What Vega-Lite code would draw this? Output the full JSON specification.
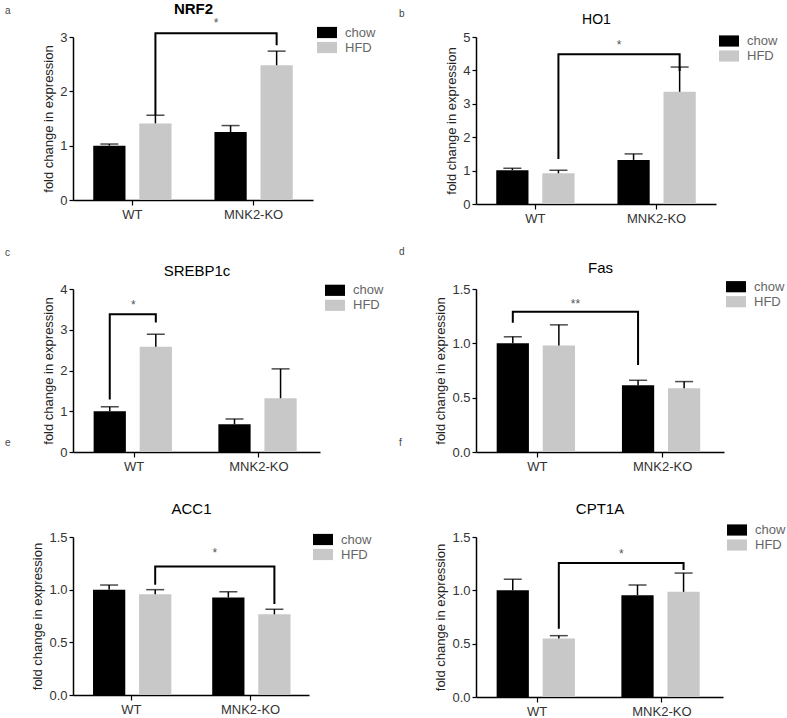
{
  "$schema": "https://vega.github.io/schema/vega-lite/v6.json",
  "background": "white",
  "padding": {"left": 5, "top": 1, "right": 0, "bottom": 0},
  "config": {
    "font": "Liberation Sans",
    "view": {"stroke": null},
    "axis": {"grid": false, "domainColor": "#000", "domainWidth": 1.5, "tickColor": "#000", "tickWidth": 1.2, "tickSize": 4, "labelFontSize": 13, "labelColor": "#333", "labelOverlap": false, "titleFontSize": 13, "titleFontWeight": "normal", "titleColor": "#222"},
    "axisX": {"title": null, "labelAngle": 0, "tickSize": 5, "labelPadding": 3},
    "legend": {"symbolType": "M-1.25,-0.7H1.25V0.7H-1.25Z", "symbolSize": 256, "symbolStrokeWidth": 0, "labelFontSize": 13, "labelColor": "#666", "rowPadding": 0, "labelOffset": 10, "padding": 0},
    "title": {"fontSize": 10, "fontWeight": "normal", "color": "#444"}
  },
  "datasets": {
    "bars": [
      {"panel": "a", "genotype": "WT", "diet": "chow", "mean": 1.0, "upper": 1.03},
      {"panel": "a", "genotype": "WT", "diet": "HFD", "mean": 1.41, "upper": 1.56},
      {"panel": "a", "genotype": "MNK2-KO", "diet": "chow", "mean": 1.25, "upper": 1.37},
      {"panel": "a", "genotype": "MNK2-KO", "diet": "HFD", "mean": 2.48, "upper": 2.74},
      {"panel": "b", "genotype": "WT", "diet": "chow", "mean": 1.01, "upper": 1.07},
      {"panel": "b", "genotype": "WT", "diet": "HFD", "mean": 0.92, "upper": 1.01},
      {"panel": "b", "genotype": "MNK2-KO", "diet": "chow", "mean": 1.32, "upper": 1.5},
      {"panel": "b", "genotype": "MNK2-KO", "diet": "HFD", "mean": 3.36, "upper": 4.1},
      {"panel": "c", "genotype": "WT", "diet": "chow", "mean": 1.0, "upper": 1.11},
      {"panel": "c", "genotype": "WT", "diet": "HFD", "mean": 2.58, "upper": 2.89},
      {"panel": "c", "genotype": "MNK2-KO", "diet": "chow", "mean": 0.68, "upper": 0.81},
      {"panel": "c", "genotype": "MNK2-KO", "diet": "HFD", "mean": 1.32, "upper": 2.04},
      {"panel": "d", "genotype": "WT", "diet": "chow", "mean": 1.0, "upper": 1.06},
      {"panel": "d", "genotype": "WT", "diet": "HFD", "mean": 0.98, "upper": 1.17},
      {"panel": "d", "genotype": "MNK2-KO", "diet": "chow", "mean": 0.615, "upper": 0.66},
      {"panel": "d", "genotype": "MNK2-KO", "diet": "HFD", "mean": 0.587, "upper": 0.648},
      {"panel": "e", "genotype": "WT", "diet": "chow", "mean": 1.0, "upper": 1.044},
      {"panel": "e", "genotype": "WT", "diet": "HFD", "mean": 0.957, "upper": 1.0},
      {"panel": "e", "genotype": "MNK2-KO", "diet": "chow", "mean": 0.926, "upper": 0.98},
      {"panel": "e", "genotype": "MNK2-KO", "diet": "HFD", "mean": 0.766, "upper": 0.814},
      {"panel": "f", "genotype": "WT", "diet": "chow", "mean": 1.0, "upper": 1.104},
      {"panel": "f", "genotype": "WT", "diet": "HFD", "mean": 0.548, "upper": 0.575},
      {"panel": "f", "genotype": "MNK2-KO", "diet": "chow", "mean": 0.955, "upper": 1.05},
      {"panel": "f", "genotype": "MNK2-KO", "diet": "HFD", "mean": 0.986, "upper": 1.162}
    ],
    "brackets": [
      {"panel": "a", "genotype": "WT", "diet": "HFD", "y": 1.56, "seq": 1},
      {"panel": "a", "genotype": "WT", "diet": "HFD", "y": 3.07, "seq": 2},
      {"panel": "a", "genotype": "MNK2-KO", "diet": "HFD", "y": 3.07, "seq": 3},
      {"panel": "a", "genotype": "MNK2-KO", "diet": "HFD", "y": 2.85, "seq": 4},
      {"panel": "b", "genotype": "WT", "diet": "HFD", "y": 1.35, "seq": 1},
      {"panel": "b", "genotype": "WT", "diet": "HFD", "y": 4.48, "seq": 2},
      {"panel": "b", "genotype": "MNK2-KO", "diet": "HFD", "y": 4.48, "seq": 3},
      {"panel": "b", "genotype": "MNK2-KO", "diet": "HFD", "y": 3.98, "seq": 4},
      {"panel": "c", "genotype": "WT", "diet": "chow", "y": 1.29, "seq": 1},
      {"panel": "c", "genotype": "WT", "diet": "chow", "y": 3.38, "seq": 2},
      {"panel": "c", "genotype": "WT", "diet": "HFD", "y": 3.38, "seq": 3},
      {"panel": "c", "genotype": "WT", "diet": "HFD", "y": 3.18, "seq": 4},
      {"panel": "d", "genotype": "WT", "diet": "chow", "y": 1.19, "seq": 1},
      {"panel": "d", "genotype": "WT", "diet": "chow", "y": 1.29, "seq": 2},
      {"panel": "d", "genotype": "MNK2-KO", "diet": "chow", "y": 1.29, "seq": 3},
      {"panel": "d", "genotype": "MNK2-KO", "diet": "chow", "y": 0.8, "seq": 4},
      {"panel": "e", "genotype": "WT", "diet": "HFD", "y": 1.047, "seq": 1},
      {"panel": "e", "genotype": "WT", "diet": "HFD", "y": 1.22, "seq": 2},
      {"panel": "e", "genotype": "MNK2-KO", "diet": "HFD", "y": 1.22, "seq": 3},
      {"panel": "e", "genotype": "MNK2-KO", "diet": "HFD", "y": 0.865, "seq": 4},
      {"panel": "f", "genotype": "WT", "diet": "HFD", "y": 0.64, "seq": 1},
      {"panel": "f", "genotype": "WT", "diet": "HFD", "y": 1.256, "seq": 2},
      {"panel": "f", "genotype": "MNK2-KO", "diet": "HFD", "y": 1.256, "seq": 3},
      {"panel": "f", "genotype": "MNK2-KO", "diet": "HFD", "y": 1.19, "seq": 4}
    ],
    "stars": [
      {"panel": "a", "genotype": "WT", "diet": "HFD", "y": 3.25, "label": "*"},
      {"panel": "b", "genotype": "WT", "diet": "HFD", "y": 4.77, "label": "*"},
      {"panel": "c", "genotype": "WT", "diet": "chow", "y": 3.6, "label": "*"},
      {"panel": "d", "genotype": "WT", "diet": "chow", "y": 1.36, "label": "**"},
      {"panel": "e", "genotype": "WT", "diet": "HFD", "y": 1.35, "label": "*"},
      {"panel": "f", "genotype": "WT", "diet": "HFD", "y": 1.345, "label": "*"}
    ]
  },
  "columns": 2,
  "bounds": "flush",
  "align": "each",
  "spacing": {"row": 85, "column": 156},
  "resolve": {"scale": {"color": "independent"}, "legend": {"color": "independent"}},
  "concat": [
    {
      "width": 240, "height": 163,
      "title": {"text": "a", "anchor": "start", "frame": "group", "dx": -68, "offset": -22.5, "baseline": "alphabetic"},
      "resolve": {"axis": {"x": "independent"}},
      "layer": [
        {"data": {"name": "bars"}, "transform": [{"filter": "datum.panel === 'a'"}], "mark": {"type": "bar"},
         "encoding": {
           "x": {"field": "genotype", "type": "nominal", "sort": ["WT", "MNK2-KO"], "scale": {"paddingInner": 0.24, "paddingOuter": 0.11}, "axis": {"orient": "bottom"}},
           "xOffset": {"field": "diet", "type": "nominal", "sort": ["chow", "HFD"], "scale": {"paddingInner": 0.3, "paddingOuter": 0.15}},
           "y": {"field": "mean", "type": "quantitative", "scale": {"domain": [0, 3], "nice": false}, "axis": {"values": [0, 1, 2, 3], "tickCount": 10, "format": "d", "title": "fold change in expression"}},
           "color": {"field": "diet", "type": "nominal", "scale": {"domain": ["chow", "HFD"], "range": ["#000000", "#c8c8c8"]}, "legend": {"orient": "none", "legendX": 246, "legendY": -12.5, "title": null}}
         }},
        {"data": {"name": "bars"}, "transform": [{"filter": "datum.panel === 'a'"}], "mark": {"type": "rule", "color": "#000", "strokeWidth": 1.5},
         "encoding": {
           "x": {"field": "genotype", "type": "nominal", "sort": ["WT", "MNK2-KO"], "axis": null},
           "xOffset": {"field": "diet", "type": "nominal", "sort": ["chow", "HFD"]},
           "y": {"field": "mean", "type": "quantitative"}, "y2": {"field": "upper"}
         }},
        {"data": {"name": "bars"}, "transform": [{"filter": "datum.panel === 'a'"}], "mark": {"type": "tick", "color": "#000", "thickness": 1.5, "size": 18},
         "encoding": {
           "x": {"field": "genotype", "type": "nominal", "sort": ["WT", "MNK2-KO"], "axis": null},
           "xOffset": {"field": "diet", "type": "nominal", "sort": ["chow", "HFD"]},
           "y": {"field": "upper", "type": "quantitative"}
         }},
        {"data": {"name": "brackets"}, "transform": [{"filter": "datum.panel === 'a'"}], "mark": {"type": "line", "color": "#000", "strokeWidth": 2},
         "encoding": {
           "x": {"field": "genotype", "type": "nominal", "sort": ["WT", "MNK2-KO"], "axis": null},
           "xOffset": {"field": "diet", "type": "nominal", "sort": ["chow", "HFD"]},
           "y": {"field": "y", "type": "quantitative"}, "order": {"field": "seq", "type": "quantitative"}
         }},
        {"data": {"name": "stars"}, "transform": [{"filter": "datum.panel === 'a'"}], "mark": {"type": "text", "dx": 60.6, "fontSize": 12, "color": "#555", "baseline": "middle"},
         "encoding": {
           "x": {"field": "genotype", "type": "nominal", "sort": ["WT", "MNK2-KO"], "axis": {"orient": "top", "title": "NRF2", "labels": false, "ticks": false, "domain": false, "titleFontSize": 15, "titleFontWeight": "bold", "titleColor": "#000", "titleAnchor": "middle", "titleBaseline": "alphabetic", "titleY": -24}},
           "xOffset": {"field": "diet", "type": "nominal", "sort": ["chow", "HFD"]},
           "y": {"field": "y", "type": "quantitative"}, "text": {"field": "label"}
         }}
      ]
    },
    {
      "width": 240, "height": 167,
      "title": {"text": "b", "anchor": "start", "frame": "group", "dx": -77, "offset": -14.5, "baseline": "alphabetic"},
      "resolve": {"axis": {"x": "independent"}},
      "layer": [
        {"data": {"name": "bars"}, "transform": [{"filter": "datum.panel === 'b'"}], "mark": {"type": "bar"},
         "encoding": {
           "x": {"field": "genotype", "type": "nominal", "sort": ["WT", "MNK2-KO"], "scale": {"paddingInner": 0.24, "paddingOuter": 0.11}, "axis": {"orient": "bottom"}},
           "xOffset": {"field": "diet", "type": "nominal", "sort": ["chow", "HFD"], "scale": {"paddingInner": 0.3, "paddingOuter": 0.15}},
           "y": {"field": "mean", "type": "quantitative", "scale": {"domain": [0, 5], "nice": false}, "axis": {"values": [0, 1, 2, 3, 4, 5], "tickCount": 10, "format": "d", "title": "fold change in expression"}},
           "color": {"field": "diet", "type": "nominal", "scale": {"domain": ["chow", "HFD"], "range": ["#000000", "#c8c8c8"]}, "legend": {"orient": "none", "legendX": 245, "legendY": -4, "title": null}}
         }},
        {"data": {"name": "bars"}, "transform": [{"filter": "datum.panel === 'b'"}], "mark": {"type": "rule", "color": "#000", "strokeWidth": 1.5},
         "encoding": {
           "x": {"field": "genotype", "type": "nominal", "sort": ["WT", "MNK2-KO"], "axis": null},
           "xOffset": {"field": "diet", "type": "nominal", "sort": ["chow", "HFD"]},
           "y": {"field": "mean", "type": "quantitative"}, "y2": {"field": "upper"}
         }},
        {"data": {"name": "bars"}, "transform": [{"filter": "datum.panel === 'b'"}], "mark": {"type": "tick", "color": "#000", "thickness": 1.5, "size": 18},
         "encoding": {
           "x": {"field": "genotype", "type": "nominal", "sort": ["WT", "MNK2-KO"], "axis": null},
           "xOffset": {"field": "diet", "type": "nominal", "sort": ["chow", "HFD"]},
           "y": {"field": "upper", "type": "quantitative"}
         }},
        {"data": {"name": "brackets"}, "transform": [{"filter": "datum.panel === 'b'"}], "mark": {"type": "line", "color": "#000", "strokeWidth": 2},
         "encoding": {
           "x": {"field": "genotype", "type": "nominal", "sort": ["WT", "MNK2-KO"], "axis": null},
           "xOffset": {"field": "diet", "type": "nominal", "sort": ["chow", "HFD"]},
           "y": {"field": "y", "type": "quantitative"}, "order": {"field": "seq", "type": "quantitative"}
         }},
        {"data": {"name": "stars"}, "transform": [{"filter": "datum.panel === 'b'"}], "mark": {"type": "text", "dx": 60.6, "fontSize": 12, "color": "#555", "baseline": "middle"},
         "encoding": {
           "x": {"field": "genotype", "type": "nominal", "sort": ["WT", "MNK2-KO"], "axis": {"orient": "top", "title": "HO1", "labels": false, "ticks": false, "domain": false, "titleFontSize": 14, "titleFontWeight": "normal", "titleColor": "#000", "titleAnchor": "middle", "titleBaseline": "alphabetic", "titleY": -14}},
           "xOffset": {"field": "diet", "type": "nominal", "sort": ["chow", "HFD"]},
           "y": {"field": "y", "type": "quantitative"}, "text": {"field": "label"}
         }}
      ]
    },
    {
      "width": 247, "height": 163,
      "title": {"text": "c", "anchor": "start", "frame": "group", "dx": -68, "offset": -2.5, "baseline": "alphabetic"},
      "resolve": {"axis": {"x": "independent"}},
      "layer": [
        {"data": {"name": "bars"}, "transform": [{"filter": "datum.panel === 'c'"}], "mark": {"type": "bar"},
         "encoding": {
           "x": {"field": "genotype", "type": "nominal", "sort": ["WT", "MNK2-KO"], "scale": {"paddingInner": 0.24, "paddingOuter": 0.11}, "axis": {"orient": "bottom"}},
           "xOffset": {"field": "diet", "type": "nominal", "sort": ["chow", "HFD"], "scale": {"paddingInner": 0.3, "paddingOuter": 0.15}},
           "y": {"field": "mean", "type": "quantitative", "scale": {"domain": [0, 4], "nice": false}, "axis": {"values": [0, 1, 2, 3, 4], "tickCount": 10, "format": "d", "title": "fold change in expression"}},
           "color": {"field": "diet", "type": "nominal", "scale": {"domain": ["chow", "HFD"], "range": ["#000000", "#c8c8c8"]}, "legend": {"orient": "none", "legendX": 254, "legendY": -6.7, "title": null}}
         }},
        {"data": {"name": "bars"}, "transform": [{"filter": "datum.panel === 'c'"}], "mark": {"type": "rule", "color": "#000", "strokeWidth": 1.5},
         "encoding": {
           "x": {"field": "genotype", "type": "nominal", "sort": ["WT", "MNK2-KO"], "axis": null},
           "xOffset": {"field": "diet", "type": "nominal", "sort": ["chow", "HFD"]},
           "y": {"field": "mean", "type": "quantitative"}, "y2": {"field": "upper"}
         }},
        {"data": {"name": "bars"}, "transform": [{"filter": "datum.panel === 'c'"}], "mark": {"type": "tick", "color": "#000", "thickness": 1.5, "size": 18},
         "encoding": {
           "x": {"field": "genotype", "type": "nominal", "sort": ["WT", "MNK2-KO"], "axis": null},
           "xOffset": {"field": "diet", "type": "nominal", "sort": ["chow", "HFD"]},
           "y": {"field": "upper", "type": "quantitative"}
         }},
        {"data": {"name": "brackets"}, "transform": [{"filter": "datum.panel === 'c'"}], "mark": {"type": "line", "color": "#000", "strokeWidth": 2},
         "encoding": {
           "x": {"field": "genotype", "type": "nominal", "sort": ["WT", "MNK2-KO"], "axis": null},
           "xOffset": {"field": "diet", "type": "nominal", "sort": ["chow", "HFD"]},
           "y": {"field": "y", "type": "quantitative"}, "order": {"field": "seq", "type": "quantitative"}
         }},
        {"data": {"name": "stars"}, "transform": [{"filter": "datum.panel === 'c'"}], "mark": {"type": "text", "dx": 23.7, "fontSize": 12, "color": "#555", "baseline": "middle"},
         "encoding": {
           "x": {"field": "genotype", "type": "nominal", "sort": ["WT", "MNK2-KO"], "axis": {"orient": "top", "title": "SREBP1c", "labels": false, "ticks": false, "domain": false, "titleFontSize": 15, "titleFontWeight": "normal", "titleColor": "#000", "titleAnchor": "middle", "titleBaseline": "alphabetic", "titleY": -14}},
           "xOffset": {"field": "diet", "type": "nominal", "sort": ["chow", "HFD"]},
           "y": {"field": "y", "type": "quantitative"}, "text": {"field": "label"}
         }}
      ]
    },
    {
      "width": 248, "height": 163,
      "title": {"text": "d", "anchor": "start", "frame": "group", "dx": -77, "offset": -5, "baseline": "alphabetic"},
      "resolve": {"axis": {"x": "independent"}},
      "layer": [
        {"data": {"name": "bars"}, "transform": [{"filter": "datum.panel === 'd'"}], "mark": {"type": "bar"},
         "encoding": {
           "x": {"field": "genotype", "type": "nominal", "sort": ["WT", "MNK2-KO"], "scale": {"paddingInner": 0.24, "paddingOuter": 0.11}, "axis": {"orient": "bottom"}},
           "xOffset": {"field": "diet", "type": "nominal", "sort": ["chow", "HFD"], "scale": {"paddingInner": 0.3, "paddingOuter": 0.15}},
           "y": {"field": "mean", "type": "quantitative", "scale": {"domain": [0, 1.5], "nice": false}, "axis": {"values": [0, 0.5, 1, 1.5], "tickCount": 10, "format": ".1f", "title": "fold change in expression"}},
           "color": {"field": "diet", "type": "nominal", "scale": {"domain": ["chow", "HFD"], "range": ["#000000", "#c8c8c8"]}, "legend": {"orient": "none", "legendX": 252, "legendY": -10.3, "title": null}}
         }},
        {"data": {"name": "bars"}, "transform": [{"filter": "datum.panel === 'd'"}], "mark": {"type": "rule", "color": "#000", "strokeWidth": 1.5},
         "encoding": {
           "x": {"field": "genotype", "type": "nominal", "sort": ["WT", "MNK2-KO"], "axis": null},
           "xOffset": {"field": "diet", "type": "nominal", "sort": ["chow", "HFD"]},
           "y": {"field": "mean", "type": "quantitative"}, "y2": {"field": "upper"}
         }},
        {"data": {"name": "bars"}, "transform": [{"filter": "datum.panel === 'd'"}], "mark": {"type": "tick", "color": "#000", "thickness": 1.5, "size": 18},
         "encoding": {
           "x": {"field": "genotype", "type": "nominal", "sort": ["WT", "MNK2-KO"], "axis": null},
           "xOffset": {"field": "diet", "type": "nominal", "sort": ["chow", "HFD"]},
           "y": {"field": "upper", "type": "quantitative"}
         }},
        {"data": {"name": "brackets"}, "transform": [{"filter": "datum.panel === 'd'"}], "mark": {"type": "line", "color": "#000", "strokeWidth": 2},
         "encoding": {
           "x": {"field": "genotype", "type": "nominal", "sort": ["WT", "MNK2-KO"], "axis": null},
           "xOffset": {"field": "diet", "type": "nominal", "sort": ["chow", "HFD"]},
           "y": {"field": "y", "type": "quantitative"}, "order": {"field": "seq", "type": "quantitative"}
         }},
        {"data": {"name": "stars"}, "transform": [{"filter": "datum.panel === 'd'"}], "mark": {"type": "text", "dx": 62.6, "fontSize": 12, "color": "#555", "baseline": "middle"},
         "encoding": {
           "x": {"field": "genotype", "type": "nominal", "sort": ["WT", "MNK2-KO"], "axis": {"orient": "top", "title": "Fas", "labels": false, "ticks": false, "domain": false, "titleFontSize": 15, "titleFontWeight": "normal", "titleColor": "#000", "titleAnchor": "middle", "titleBaseline": "alphabetic", "titleY": -17}},
           "xOffset": {"field": "diet", "type": "nominal", "sort": ["chow", "HFD"]},
           "y": {"field": "y", "type": "quantitative"}, "text": {"field": "label"}
         }}
      ]
    },
    {
      "width": 236, "height": 158,
      "title": {"text": "e", "anchor": "start", "frame": "group", "dx": -68, "offset": 45, "baseline": "alphabetic"},
      "resolve": {"axis": {"x": "independent"}},
      "layer": [
        {"data": {"name": "bars"}, "transform": [{"filter": "datum.panel === 'e'"}], "mark": {"type": "bar"},
         "encoding": {
           "x": {"field": "genotype", "type": "nominal", "sort": ["WT", "MNK2-KO"], "scale": {"paddingInner": 0.24, "paddingOuter": 0.11}, "axis": {"orient": "bottom"}},
           "xOffset": {"field": "diet", "type": "nominal", "sort": ["chow", "HFD"], "scale": {"paddingInner": 0.3, "paddingOuter": 0.15}},
           "y": {"field": "mean", "type": "quantitative", "scale": {"domain": [0, 1.5], "nice": false}, "axis": {"values": [0, 0.5, 1, 1.5], "tickCount": 10, "format": ".1f", "title": "fold change in expression"}},
           "color": {"field": "diet", "type": "nominal", "scale": {"domain": ["chow", "HFD"], "range": ["#000000", "#c8c8c8"]}, "legend": {"orient": "none", "legendX": 242, "legendY": -5.5, "title": null}}
         }},
        {"data": {"name": "bars"}, "transform": [{"filter": "datum.panel === 'e'"}], "mark": {"type": "rule", "color": "#000", "strokeWidth": 1.5},
         "encoding": {
           "x": {"field": "genotype", "type": "nominal", "sort": ["WT", "MNK2-KO"], "axis": null},
           "xOffset": {"field": "diet", "type": "nominal", "sort": ["chow", "HFD"]},
           "y": {"field": "mean", "type": "quantitative"}, "y2": {"field": "upper"}
         }},
        {"data": {"name": "bars"}, "transform": [{"filter": "datum.panel === 'e'"}], "mark": {"type": "tick", "color": "#000", "thickness": 1.5, "size": 18},
         "encoding": {
           "x": {"field": "genotype", "type": "nominal", "sort": ["WT", "MNK2-KO"], "axis": null},
           "xOffset": {"field": "diet", "type": "nominal", "sort": ["chow", "HFD"]},
           "y": {"field": "upper", "type": "quantitative"}
         }},
        {"data": {"name": "brackets"}, "transform": [{"filter": "datum.panel === 'e'"}], "mark": {"type": "line", "color": "#000", "strokeWidth": 2},
         "encoding": {
           "x": {"field": "genotype", "type": "nominal", "sort": ["WT", "MNK2-KO"], "axis": null},
           "xOffset": {"field": "diet", "type": "nominal", "sort": ["chow", "HFD"]},
           "y": {"field": "y", "type": "quantitative"}, "order": {"field": "seq", "type": "quantitative"}
         }},
        {"data": {"name": "stars"}, "transform": [{"filter": "datum.panel === 'e'"}], "mark": {"type": "text", "dx": 59.6, "fontSize": 12, "color": "#555", "baseline": "middle"},
         "encoding": {
           "x": {"field": "genotype", "type": "nominal", "sort": ["WT", "MNK2-KO"], "axis": {"orient": "top", "title": "ACC1", "labels": false, "ticks": false, "domain": false, "titleFontSize": 15, "titleFontWeight": "normal", "titleColor": "#000", "titleAnchor": "middle", "titleBaseline": "alphabetic", "titleY": -24}},
           "xOffset": {"field": "diet", "type": "nominal", "sort": ["chow", "HFD"]},
           "y": {"field": "y", "type": "quantitative"}, "text": {"field": "label"}
         }}
      ]
    },
    {
      "width": 247, "height": 160,
      "title": {"text": "f", "anchor": "start", "frame": "group", "dx": -77, "offset": 45, "baseline": "alphabetic"},
      "resolve": {"axis": {"x": "independent"}},
      "layer": [
        {"data": {"name": "bars"}, "transform": [{"filter": "datum.panel === 'f'"}], "mark": {"type": "bar"},
         "encoding": {
           "x": {"field": "genotype", "type": "nominal", "sort": ["WT", "MNK2-KO"], "scale": {"paddingInner": 0.24, "paddingOuter": 0.11}, "axis": {"orient": "bottom"}},
           "xOffset": {"field": "diet", "type": "nominal", "sort": ["chow", "HFD"], "scale": {"paddingInner": 0.3, "paddingOuter": 0.15}},
           "y": {"field": "mean", "type": "quantitative", "scale": {"domain": [0, 1.5], "nice": false}, "axis": {"values": [0, 0.5, 1, 1.5], "tickCount": 10, "format": ".1f", "title": "fold change in expression"}},
           "color": {"field": "diet", "type": "nominal", "scale": {"domain": ["chow", "HFD"], "range": ["#000000", "#c8c8c8"]}, "legend": {"orient": "none", "legendX": 253, "legendY": -15, "title": null}}
         }},
        {"data": {"name": "bars"}, "transform": [{"filter": "datum.panel === 'f'"}], "mark": {"type": "rule", "color": "#000", "strokeWidth": 1.5},
         "encoding": {
           "x": {"field": "genotype", "type": "nominal", "sort": ["WT", "MNK2-KO"], "axis": null},
           "xOffset": {"field": "diet", "type": "nominal", "sort": ["chow", "HFD"]},
           "y": {"field": "mean", "type": "quantitative"}, "y2": {"field": "upper"}
         }},
        {"data": {"name": "bars"}, "transform": [{"filter": "datum.panel === 'f'"}], "mark": {"type": "tick", "color": "#000", "thickness": 1.5, "size": 18},
         "encoding": {
           "x": {"field": "genotype", "type": "nominal", "sort": ["WT", "MNK2-KO"], "axis": null},
           "xOffset": {"field": "diet", "type": "nominal", "sort": ["chow", "HFD"]},
           "y": {"field": "upper", "type": "quantitative"}
         }},
        {"data": {"name": "brackets"}, "transform": [{"filter": "datum.panel === 'f'"}], "mark": {"type": "line", "color": "#000", "strokeWidth": 2},
         "encoding": {
           "x": {"field": "genotype", "type": "nominal", "sort": ["WT", "MNK2-KO"], "axis": null},
           "xOffset": {"field": "diet", "type": "nominal", "sort": ["chow", "HFD"]},
           "y": {"field": "y", "type": "quantitative"}, "order": {"field": "seq", "type": "quantitative"}
         }},
        {"data": {"name": "stars"}, "transform": [{"filter": "datum.panel === 'f'"}], "mark": {"type": "text", "dx": 62.4, "fontSize": 12, "color": "#555", "baseline": "middle"},
         "encoding": {
           "x": {"field": "genotype", "type": "nominal", "sort": ["WT", "MNK2-KO"], "axis": {"orient": "top", "title": "CPT1A", "labels": false, "ticks": false, "domain": false, "titleFontSize": 15, "titleFontWeight": "normal", "titleColor": "#000", "titleAnchor": "middle", "titleBaseline": "alphabetic", "titleY": -24}},
           "xOffset": {"field": "diet", "type": "nominal", "sort": ["chow", "HFD"]},
           "y": {"field": "y", "type": "quantitative"}, "text": {"field": "label"}
         }}
      ]
    }
  ]
}
